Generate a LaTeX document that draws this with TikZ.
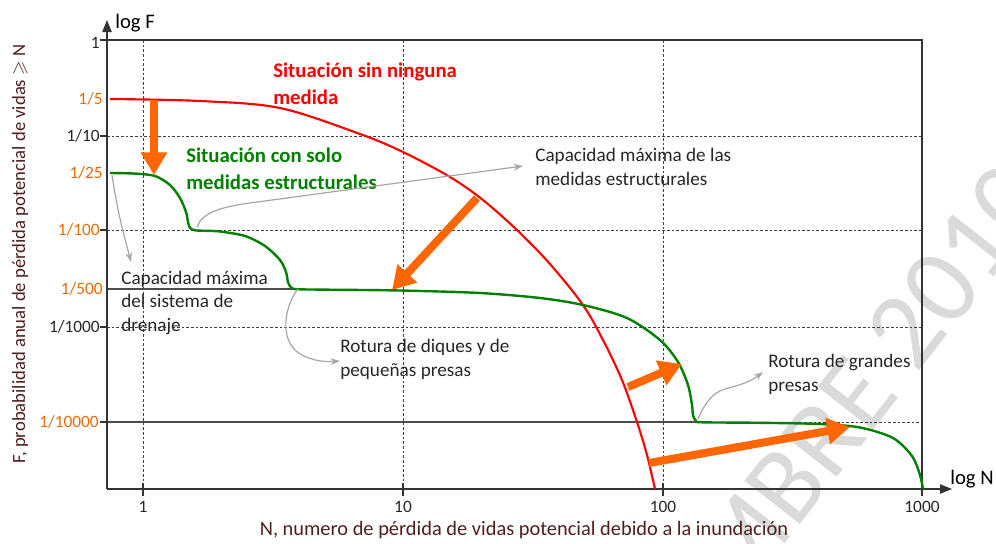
\documentclass[tikz,border=0pt]{standalone}
\usepackage{fontspec}
\setmainfont{Carlito}
\usepackage{amssymb}
\usetikzlibrary{arrows.meta}

\definecolor{curvered}{HTML}{FF0000}
\definecolor{curvegreen}{HTML}{008000}
\definecolor{arroworange}{HTML}{FF6600}
\definecolor{tickorange}{HTML}{E46C0A}
\definecolor{titlebrown}{HTML}{4F1E1E}
\definecolor{notegray}{HTML}{A6A6A6}
\definecolor{markgray}{HTML}{DADADA}

\tikzset{
  gridline/.style={draw=black!75, line width=0.6pt, dash pattern=on 2pt off 1.5pt},
  levelline/.style={draw=black!70, line width=0.8pt},
  frame/.style={draw=black!80, line width=0.8pt},
  axis/.style={draw=black!80, line width=0.9pt, -{Triangle[length=9pt,width=7pt]}},
  tickmark/.style={draw=black!80, line width=0.8pt},
  ticklab/.style={inner sep=0pt, font=\fontsize{13}{15}\selectfont, text=black!85},
  axistitle/.style={inner sep=0pt, font=\fontsize{14}{17}\selectfont, text=titlebrown},
  note/.style={inner sep=0pt, align=left, font=\fontsize{14.4}{17.6}\selectfont, text=black!85},
  boldnote/.style={inner sep=0pt, align=left, font=\fontsize{15.6}{20}\selectfont\bfseries},
  bigarrow/.style={draw=arroworange, line width=6pt, -{Triangle[length=17pt,width=19pt]}},
  notearrow/.style={draw=notegray, line width=0.9pt, -{Stealth[length=7pt,width=5pt]}},
  wmark/.style={inner sep=0pt, text=markgray, font=\fontsize{82}{82}\selectfont},
}

\begin{document}
\begin{tikzpicture}[x=0.75pt,y=-0.75pt]
\useasboundingbox (0,0) rectangle (996,543);

% watermark
\node[wmark, rotate=52, anchor=base west] (wm) at (738,604) {MBRE 2010};

% grid and levels
\draw[gridline] (143,40) -- (143,489);
\draw[gridline] (403,40) -- (403,489);
\draw[gridline] (663,40) -- (663,489);
\draw[gridline] (107,136) -- (922,136);
\draw[gridline] (107,230) -- (922,230);
\draw[gridline] (107,327) -- (922,327);
\draw[levelline] (107,289) -- (297,289);
\draw[levelline] (107,422) -- (697,422);
\draw[gridline] (697,422) -- (922,422);
\draw[frame] (107,40) -- (922,40) -- (922,489);

% ticks
\draw[tickmark] (100,40) -- (107,40);
\draw[tickmark] (100,136) -- (107,136);
\draw[tickmark] (100,230) -- (107,230);
\draw[tickmark] (100,327) -- (107,327);
\draw[tickmark] (100,422) -- (107,422);
\draw[tickmark] (143,483) -- (143,496);
\draw[tickmark] (403,483) -- (403,496);
\draw[tickmark] (663,483) -- (663,496);
\draw[tickmark] (922,483) -- (922,496);

% axes
\draw[axis] (107,489) -- (952,489);
\draw[axis] (107,489) -- (107,20);
\node[inner sep=0pt, anchor=base west, font=\fontsize{15.5}{18}\selectfont] (logf) at (115,28) {log F};
\node[inner sep=0pt, anchor=base west, font=\fontsize{15.5}{18}\selectfont] (logn) at (950,484) {log N};

% tick labels
\node[ticklab, anchor=east] (f1) at (100,43) {1};
\node[ticklab, anchor=east, text=tickorange] (f5) at (103,99) {1/5};
\node[ticklab, anchor=east] (f10) at (100,136) {1/10};
\node[ticklab, anchor=east, text=tickorange] (f25) at (103,173) {1/25};
\node[ticklab, anchor=east, text=tickorange] (f100) at (100,230) {1/100};
\node[ticklab, anchor=east, text=tickorange] (f500) at (103,289) {1/500};
\node[ticklab, anchor=east] (f1000) at (100,327) {1/1000};
\node[ticklab, anchor=east, text=tickorange] (f10000) at (99,422) {1/10000};
\node[ticklab, anchor=north] (n1) at (143,501) {1};
\node[ticklab, anchor=north] (n10) at (403,501) {10};
\node[ticklab, anchor=north] (n100) at (663,501) {100};
\node[ticklab, anchor=north] (n1000) at (922,501) {1000};

% axis titles
\node[axistitle, anchor=base, font=\fontsize{15.3}{18}\selectfont] (xtitle) at (524,535) {N, numero de pérdida de vidas potencial debido a la inundación};
\node[axistitle, anchor=base, rotate=90] (ytitle) at (25,254) {F, probabilidad anual de pérdida potencial de vidas $\geqslant$ N};

% curves
\draw[curvered, line width=1.6pt] plot[smooth, tension=0.55] coordinates {
  (110,99) (200,101) (280,108) (360,134) (403,152) (450,177) (483,200)
  (518,231) (550,264) (583,305) (603,340) (622,380) (637,422) (647,455) (655,489)};
\draw[curvegreen, line width=1.8pt] plot[smooth, tension=0.5] coordinates {
  (110,173) (135,173.6) (155,176) (170,185) (180,198) (186,212) (188,222)
  (190,228) (195,230.3) (205,230.8) (220,231.5) (245,236) (265,246) (280,260)
  (286,272) (288,282) (291,287.5) (297,289.2) (320,289.6) (400,290.5) (480,293)
  (540,298) (583,305) (627,318) (660,340) (678,362) (688,385) (692,405) (693,415)
  (696,421) (702,422.3) (760,422.8) (820,424) (860,427.5) (893,438) (912,456)
  (920,475) (923,489)};

% labels (base = last line)
\node[boldnote, anchor=base west, text=curvered] (red) at (273,104) {Situación sin ninguna\\medida};
\node[boldnote, anchor=base west, text=curvegreen] (green) at (186,189) {Situación con solo\\medidas estructurales};
\node[note, anchor=base west] (capest) at (535,185) {Capacidad máxima de las\\medidas estructurales};
\node[note, anchor=base west] (capdren) at (121,331) {Capacidad máxima\\del sistema de\\drenaje};
\node[note, anchor=base west] (diques) at (340,376) {Rotura de diques y de\\pequeñas presas};
\node[note, anchor=base west] (presas) at (768,391) {Rotura de grandes\\presas};

% orange arrows
\coordinate (a1s) at (154,100);
\coordinate (a1e) at (154,175);
\coordinate (a2s) at (477,198);
\coordinate (a2e) at (392,290);
\coordinate (a3s) at (628,387);
\coordinate (a3e) at (682,364);
\coordinate (a4s) at (649,463);
\coordinate (a4e) at (850,427);
\draw[bigarrow] (a1s) -- (a1e);
\draw[bigarrow] (a2s) -- (a2e);
\draw[bigarrow] (a3s) -- (a3e);
\draw[bigarrow] (a4s) -- (a4e);

% grey pointers
\coordinate (p1s) at (197,227);
\coordinate (p1e) at (523,166);
\coordinate (p2s) at (112,175);
\coordinate (p2e) at (131,262);
\coordinate (p3s) at (298,289);
\coordinate (p3e) at (340,361);
\coordinate (p4s) at (698,419);
\coordinate (p4e) at (763,372);
\draw[notearrow] (p1s) .. controls (202,213) and (220,207) .. (250,203) -- (p1e);
\draw[notearrow] (p2s) .. controls (118,215) and (124,235) .. (p2e);
\draw[notearrow] (p3s) .. controls (285,305) and (278,340) .. (300,354) .. controls (312,361) and (325,362) .. (p3e);
\draw[notearrow] (p4s) .. controls (705,403) and (712,393) .. (725,389) .. controls (740,385) and (750,382) .. (p4e);
\end{tikzpicture}
\end{document}
